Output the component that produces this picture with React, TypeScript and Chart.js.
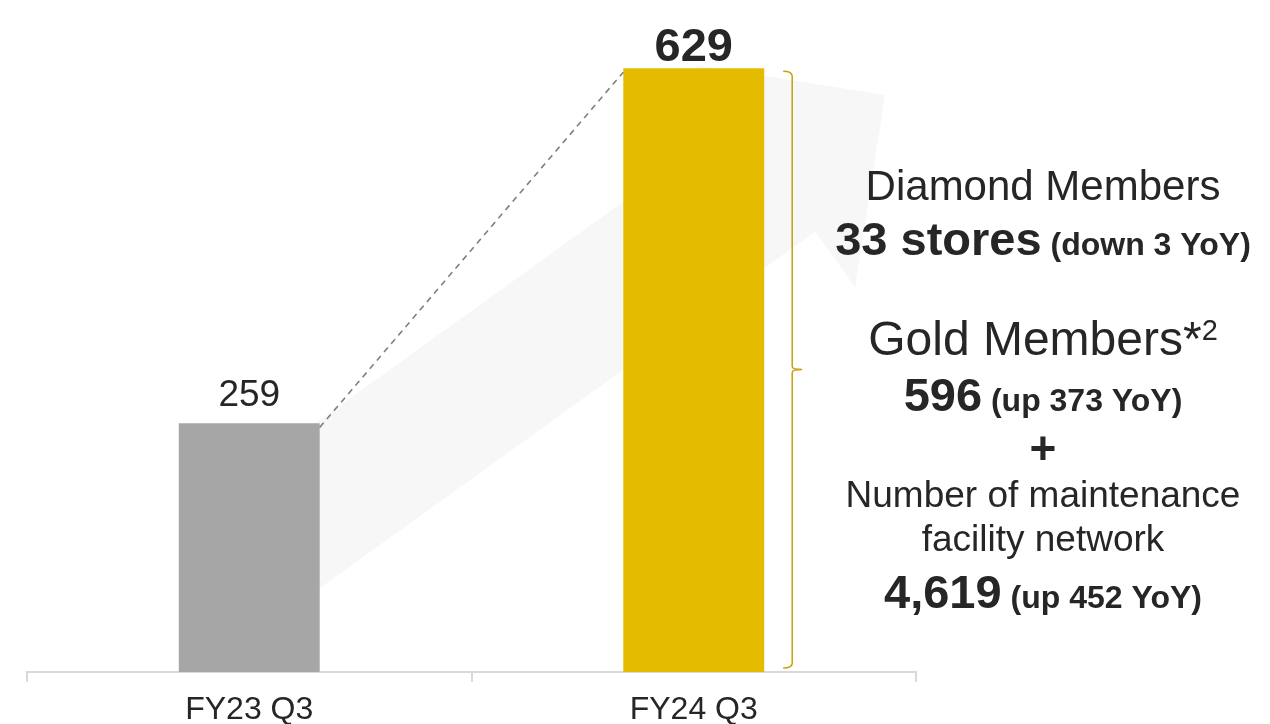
import React, { useEffect, useRef } from "react";
import { Chart, registerables } from "chart.js";

Chart.register(...registerables);

// ---- data ----
const categories = ["FY23 Q3", "FY24 Q3"];
const memberCounts = [259, 629];
const valueLabels = ["259", "629"];
const barColors = ["#a6a6a6", "#e5bb00"];

const diamondTitle = "Diamond Members";
const diamondValue = "33 stores";
const diamondChange = " (down 3 YoY)";
const goldTitle = "Gold Members*";
const goldNote = "2";
const goldValue = "596";
const goldChange = " (up 373 YoY)";
const plusSign = "+";
const networkLines = ["Number of maintenance", "facility network"];
const networkValue = "4,619";
const networkChange = " (up 452 YoY)";

// ---- styling ----
const FONT = '"Liberation Sans", Arial, sans-serif';
const TEXT = "#262626";
const TEXT_CX = 1043;

// decorative background arrow: [category offset, value-space y]
const ARROW: [number, number][] = [
  [0.114, 247.5],
  [1.0935, 574],
  [1.0028, 632.3],
  [1.4303, 601],
  [1.3628, 401],
  [1.273, 458.6],
  [0.114, 72.3],
];

function drawMixed(
  ctx: CanvasRenderingContext2D,
  parts: { t: string; f: string; dy?: number }[],
  cx: number,
  y: number
) {
  let total = 0;
  const widths = parts.map((p) => {
    ctx.font = p.f;
    const w = ctx.measureText(p.t).width;
    total += w;
    return w;
  });
  let x = cx - total / 2;
  parts.forEach((p, i) => {
    ctx.font = p.f;
    ctx.fillText(p.t, x, y + (p.dy || 0));
    x += widths[i];
  });
}

const decorPlugin = {
  id: "decor",
  beforeDatasetsDraw(chart: any) {
    const ctx = chart.ctx as CanvasRenderingContext2D;
    const xs = chart.scales.x;
    const ys = chart.scales.y;
    const x0 = xs.getPixelForValue(0);
    const cw = xs.getPixelForValue(1) - x0;
    ctx.save();
    ctx.fillStyle = "#f7f7f7";
    ctx.beginPath();
    ARROW.forEach(([xi, v], i) => {
      const px = x0 + xi * cw;
      const py = ys.getPixelForValue(v);
      if (i === 0) ctx.moveTo(px, py);
      else ctx.lineTo(px, py);
    });
    ctx.closePath();
    ctx.fill();
    ctx.restore();
  },
  afterDatasetsDraw(chart: any) {
    const ctx = chart.ctx as CanvasRenderingContext2D;
    const bars = chart.getDatasetMeta(0).data;
    const b0 = bars[0].getProps(["x", "y", "width", "base"], true);
    const b1 = bars[1].getProps(["x", "y", "width", "base"], true);

    // dashed connector
    ctx.save();
    ctx.strokeStyle = "#7f7f7f";
    ctx.lineWidth = 1.6;
    ctx.setLineDash([6, 5]);
    ctx.beginPath();
    ctx.moveTo(b0.x + b0.width / 2, b0.y + 4);
    ctx.lineTo(b1.x - b1.width / 2, b1.y + 4);
    ctx.stroke();
    ctx.restore();

    // brace
    const bx = b1.x + b1.width / 2 + 28;
    const top = b1.y + 3;
    const bottom = b1.base - 4;
    const mid = (top + bottom) / 2;
    ctx.save();
    ctx.strokeStyle = "#c9a00c";
    ctx.lineWidth = 1.5;
    ctx.beginPath();
    ctx.moveTo(bx - 9, top);
    ctx.quadraticCurveTo(bx, top, bx, top + 5);
    ctx.lineTo(bx, mid - 3);
    ctx.quadraticCurveTo(bx, mid, bx + 10, mid);
    ctx.moveTo(bx + 10, mid);
    ctx.quadraticCurveTo(bx, mid, bx, mid + 3);
    ctx.lineTo(bx, bottom - 5);
    ctx.quadraticCurveTo(bx, bottom, bx - 9, bottom);
    ctx.stroke();
    ctx.restore();

    // value labels
    ctx.save();
    ctx.fillStyle = TEXT;
    ctx.textAlign = "center";
    ctx.textBaseline = "alphabetic";
    ctx.font = `37px ${FONT}`;
    ctx.fillText(valueLabels[0], b0.x, b0.y - 17);
    ctx.font = `bold 47px ${FONT}`;
    ctx.fillText(valueLabels[1], b1.x, b1.y - 7);
    ctx.restore();
  },
  afterDraw(chart: any) {
    const ctx = chart.ctx as CanvasRenderingContext2D;
    ctx.save();
    ctx.fillStyle = TEXT;
    ctx.textAlign = "left";
    ctx.textBaseline = "alphabetic";
    const big = `bold 47px ${FONT}`;
    const small = `bold 32px ${FONT}`;
    drawMixed(ctx, [{ t: diamondTitle, f: `42px ${FONT}` }], TEXT_CX, 200);
    drawMixed(ctx, [{ t: diamondValue, f: big }, { t: diamondChange, f: small }], TEXT_CX, 255);
    drawMixed(
      ctx,
      [
        { t: goldTitle, f: `48px ${FONT}` },
        { t: goldNote, f: `29px ${FONT}`, dy: -15 },
      ],
      TEXT_CX,
      355
    );
    drawMixed(ctx, [{ t: goldValue, f: big }, { t: goldChange, f: small }], TEXT_CX, 411);
    drawMixed(ctx, [{ t: plusSign, f: `bold 46px ${FONT}` }], TEXT_CX, 464);
    drawMixed(ctx, [{ t: networkLines[0], f: `37px ${FONT}` }], TEXT_CX, 507);
    drawMixed(ctx, [{ t: networkLines[1], f: `37px ${FONT}` }], TEXT_CX, 551);
    drawMixed(ctx, [{ t: networkValue, f: big }, { t: networkChange, f: small }], TEXT_CX, 608);
    ctx.restore();
  },
};

export default function App() {
  const ref = useRef<HTMLCanvasElement | null>(null);
  useEffect(() => {
    if (!ref.current) return;
    const chart = new Chart(ref.current, {
      type: "bar",
      data: {
        labels: categories,
        datasets: [
          {
            data: memberCounts,
            backgroundColor: barColors,
            borderWidth: 0,
            barPercentage: 0.317,
            categoryPercentage: 1,
          },
        ],
      },
      options: {
        animation: false,
        responsive: false,
        layout: { padding: { left: 27, right: 354, top: 0, bottom: 0 } },
        plugins: { legend: { display: false }, tooltip: { enabled: false } },
        scales: {
          x: {
            grid: {
              display: true,
              drawOnChartArea: false,
              drawTicks: true,
              tickLength: 10,
              color: "#d9d9d9",
              lineWidth: 2,
              offset: true,
            },
            border: { display: true, color: "#d9d9d9", width: 2 },
            ticks: {
              color: TEXT,
              font: { family: FONT, size: 32, lineHeight: 1 },
              padding: 12,
              maxRotation: 0,
            },
          },
          y: { display: false, min: 0, max: 700 },
        },
      },
      plugins: [decorPlugin],
    });
    return () => chart.destroy();
  }, []);
  return (
    <div
      style={{
        position: "absolute",
        left: 0,
        top: 0,
        width: 1270,
        height: 724,
        overflow: "hidden",
        background: "#fff",
      }}
    >
      <canvas ref={ref} width={1270} height={738} style={{ display: "block" }} />
    </div>
  );
}
